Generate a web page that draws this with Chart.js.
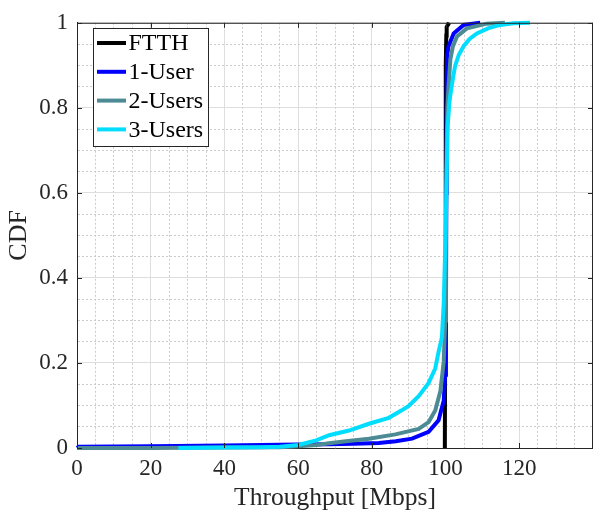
<!DOCTYPE html>
<html>
<head>
<meta charset="utf-8">
<script src="https://cdn.jsdelivr.net/npm/chart.js@4"></script>
<style>
html,body{margin:0;padding:0;background:#fff;overflow:hidden;}
#wrap{width:593px;height:515px;position:relative;overflow:hidden;}
</style>
</head>
<body>
<div id="wrap"><canvas id="c" width="600" height="515"></canvas></div>
<script>
// ---- data ----
const seriesNames = ['FTTH', '1-User', '2-Users', '3-Users'];
const seriesColors = ['#000000', '#0000ff', '#4d8b94', '#00ddff'];

const ftthX = [99.8, 99.9, 100.0, 100.1, 100.2, 100.3, 101.0];
const ftthY = [0.0, 0.3, 0.7, 0.9, 0.97, 0.99, 1.0];

const user1X = [0, 0.5, 20, 40, 60, 68.4, 75, 81.9, 86.5, 90.9, 95.4, 98.1, 99.5, 99.9, 100.1, 100.2, 100.3, 100.4, 100.8, 102.2, 104.9, 109.4];
const user1Y = [0.0, 0.003, 0.004, 0.006, 0.008, 0.009, 0.010, 0.012, 0.016, 0.022, 0.038, 0.065, 0.111, 0.172, 0.3, 0.6, 0.85, 0.922, 0.945, 0.975, 0.995, 1.0];

const user2X = [0, 20, 40, 55, 60, 65, 68.4, 73, 79.2, 86.4, 92.7, 95.4, 97.2, 98.6, 99.5, 99.9, 100.1, 100.3, 100.5, 100.8, 101.3, 102.0, 103.1, 105.8, 111.2, 116.1];
const user2Y = [0.0, 0.0, 0.001, 0.002, 0.004, 0.007, 0.011, 0.016, 0.022, 0.032, 0.045, 0.061, 0.088, 0.134, 0.203, 0.3, 0.5, 0.7, 0.8, 0.85, 0.914, 0.945, 0.968, 0.987, 0.998, 1.0];

const user3X = [27.5, 40, 50, 55, 60, 64.9, 68.4, 73.8, 79.2, 84.6, 88, 90, 92.7, 95.4, 97.2, 98.1, 99.0, 99.5, 100.0, 100.3, 100.6, 101.0, 101.3, 102.0, 102.6, 103.6, 104.9, 106.5, 108.5, 111.5, 114.8, 118.5, 122.9];
const user3Y = [0.0, 0.001, 0.002, 0.003, 0.007, 0.018, 0.030, 0.041, 0.057, 0.071, 0.088, 0.099, 0.122, 0.153, 0.187, 0.226, 0.26, 0.34, 0.5, 0.65, 0.76, 0.81, 0.83, 0.87, 0.899, 0.925, 0.945, 0.962, 0.975, 0.987, 0.995, 0.999, 1.0];

const xTickLabels = ['0', '20', '40', '60', '80', '100', '120'];
const yTickLabels = ['0', '0.2', '0.4', '0.6', '0.8', '1'];

const xLabel = 'Throughput [Mbps]';
const yLabel = 'CDF';

// ---- build ----
function pts(xs, ys) { return xs.map((x, i) => ({x: x, y: ys[i]})); }
const allX = [ftthX, user1X, user2X, user3X];
const allY = [ftthY, user1Y, user2Y, user3Y];
const drawOrder = [3, 2, 1, 0];

const FONT = "'Liberation Serif', 'Times New Roman', serif";
const AXIS = '#262626';
const MAJOR = '#dedede';
const MINOR = '#cbcbcb';

function isMajorX(v) { return Math.abs(v / 20 - Math.round(v / 20)) < 1e-6; }
function isMajorY(v) { return Math.abs(v / 0.2 - Math.round(v / 0.2)) < 1e-6; }

const boxPlugin = {
  id: 'matlabBox',
  afterDraw(chart) {
    const ctx = chart.ctx;
    const a = chart.chartArea;
    const xs = chart.scales.x, ys = chart.scales.y;
    ctx.save();
    ctx.strokeStyle = AXIS;
    ctx.lineWidth = 1;
    ctx.beginPath();
    ctx.moveTo(a.left, a.top + 0.5); ctx.lineTo(a.right, a.top + 0.5);
    ctx.moveTo(a.right - 0.5, a.top); ctx.lineTo(a.right - 0.5, a.bottom);
    ctx.stroke();
    const TL = 5;
    ctx.beginPath();
    xTickLabels.forEach(l => {
      const px = Math.round(xs.getPixelForValue(parseFloat(l))) + 0.5;
      ctx.moveTo(px, a.bottom); ctx.lineTo(px, a.bottom - TL);
      ctx.moveTo(px, a.top); ctx.lineTo(px, a.top + TL);
    });
    yTickLabels.forEach(l => {
      const py = Math.round(ys.getPixelForValue(parseFloat(l))) + 0.5;
      ctx.moveTo(a.left, py); ctx.lineTo(a.left + TL, py);
      ctx.moveTo(a.right, py); ctx.lineTo(a.right - TL, py);
    });
    ctx.stroke();
    // legend
    const lx = 93.5, ly = 28.5, lw = 115, lh = 118;
    ctx.fillStyle = '#ffffff';
    ctx.fillRect(lx, ly, lw, lh);
    ctx.strokeStyle = AXIS;
    ctx.lineWidth = 1;
    ctx.strokeRect(lx, ly, lw, lh);
    ctx.font = '24px ' + FONT;
    ctx.textBaseline = 'middle';
    ctx.textAlign = 'left';
    chart.data.datasets.forEach((ds, i) => {
      const cy = 43 + i * 28.8;
      ctx.strokeStyle = ds.borderColor;
      ctx.lineWidth = 4;
      ctx.beginPath();
      ctx.moveTo(97, cy); ctx.lineTo(126, cy);
      ctx.stroke();
      ctx.fillStyle = '#000000';
      ctx.fillText(ds.label, 128.5, cy + 1);
    });
    ctx.restore();
  }
};

new Chart(document.getElementById('c'), {
  type: 'scatter',
  data: {
    datasets: seriesNames.map((n, i) => ({
      label: n,
      data: pts(allX[i], allY[i]),
      showLine: true,
      borderColor: seriesColors[i],
      backgroundColor: seriesColors[i],
      borderWidth: 4,
      pointRadius: 0,
      pointHoverRadius: 0,
      tension: 0,
      fill: false,
      clip: false,
      order: drawOrder[i]
    }))
  },
  options: {
    responsive: false,
    animation: false,
    events: [],
    layout: { padding: { top: 14, right: 0, left: 0, bottom: 0 } },
    plugins: { legend: { display: false }, tooltip: { enabled: false }, title: { display: false } },
    scales: {
      x: {
        type: 'linear',
        min: 0, max: 140,
        afterFit(s) { s.height = 67; },
        ticks: {
          stepSize: 5,
          autoSkip: false,
          maxRotation: 0,
          padding: 7,
          color: AXIS,
          font: { family: FONT, size: 23 },
          callback(v) { return (isMajorX(v) && xTickLabels.includes(String(Math.round(v)))) ? String(Math.round(v)) : ''; }
        },
        grid: {
          drawTicks: false,
          color(c) { return c.tick && isMajorX(c.tick.value) ? MAJOR : MINOR; },
          lineWidth: 1
        },
        border: {
          display: true, color: AXIS, width: 1,
          dash(c) { return (c.tick && !isMajorX(c.tick.value)) ? [2, 2] : []; }
        },
        title: {
          display: true, text: xLabel, color: AXIS,
          font: { family: FONT, size: 25.5 },
          padding: { top: 0, bottom: 1 }
        }
      },
      y: {
        type: 'linear',
        min: 0, max: 1,
        afterFit(s) { s.width = 77; },
        ticks: {
          stepSize: 0.05,
          autoSkip: false,
          padding: 9,
          color: AXIS,
          font: { family: FONT, size: 23 },
          callback(v) {
            if (!isMajorY(v)) return '';
            const k = Math.round(v / 0.2);
            return yTickLabels[k] !== undefined ? yTickLabels[k] : '';
          }
        },
        grid: {
          drawTicks: false,
          color(c) { return c.tick && isMajorY(c.tick.value) ? MAJOR : MINOR; },
          lineWidth: 1
        },
        border: {
          display: true, color: AXIS, width: 1,
          dash(c) { return (c.tick && !isMajorY(c.tick.value)) ? [2, 2] : []; }
        },
        title: {
          display: true, text: yLabel, color: AXIS,
          font: { family: FONT, size: 26 },
          padding: { top: 4, bottom: 0 }
        }
      }
    }
  },
  plugins: [boxPlugin]
});
</script>
</body>
</html>
